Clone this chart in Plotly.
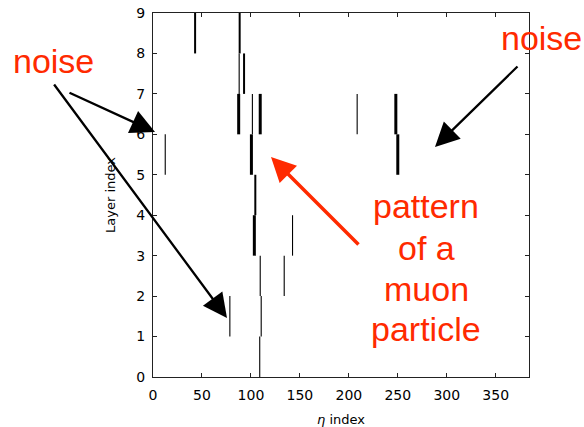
import plotly.graph_objects as go

# ---- data: hit segments (eta index, layer, hit multiplicity) ----
eta_index = [43, 88.5, 93, 88, 87.5, 101.5, 109.5, 100.5, 104.5, 103.5,
             142.5, 109.5, 134, 78.5, 110.5, 109, 12.5, 208.5, 248, 250]
layer = [8, 8, 7, 7, 6, 6, 6, 5, 4, 3,
         3, 2, 2, 1, 1, 0, 5, 6, 6, 5]
hits = [2, 2, 2, 1, 3, 1, 3, 3, 2, 3,
        1, 1, 1, 1, 1, 1, 1, 1, 3, 3]

x_ticks = [0, 50, 100, 150, 200, 250, 300, 350]
y_ticks = [0, 1, 2, 3, 4, 5, 6, 7, 8, 9]
x_max = 384
y_max = 9

noise_label = "noise"
muon_label_lines = ["pattern", "of a", "muon", "particle"]

# ---- layout geometry ----
W, H = 584, 427
ML, MR, MT, MB = 153, 55, 13, 50
pw, ph = W - ML - MR, H - MT - MB


def px_to_data(px, py):
    return (px - ML) * x_max / pw, (MT + ph - py) * y_max / ph


def px_to_paper(px, py):
    return (px - ML) / pw, (MT + ph - py) / ph


width_of = {1: 1.1, 2: 2.0, 3: 3.0}

fig = go.Figure()
for h in sorted(set(hits)):
    xs, ys = [], []
    for e, l, n in zip(eta_index, layer, hits):
        if n == h:
            xs += [e, e, None]
            ys += [l, l + 1, None]
    fig.add_trace(go.Scatter(x=xs, y=ys, mode="lines",
                             line=dict(color="black", width=width_of[h]),
                             hoverinfo="skip", showlegend=False))

RED = "#ff2a00"
TXT_FONT = dict(family="Liberation Sans, Arial, Helvetica, sans-serif", size=34, color=RED)

# text annotations (paper coordinates so they are not hidden outside the axes)
for (px, py) in [(53, 61), (541, 38)]:
    x, y = px_to_paper(px, py)
    fig.add_annotation(x=x, y=y, xref="paper", yref="paper", text=noise_label,
                       showarrow=False, font=TXT_FONT, xanchor="center", yanchor="middle")

for py, t in zip([206, 248, 289, 329], muon_label_lines):
    x, y = px_to_paper(426, py)
    fig.add_annotation(x=x, y=y, xref="paper", yref="paper", text=t,
                       showarrow=False, font=TXT_FONT, xanchor="center", yanchor="middle")

# arrows: (tail px, tail py, head px, head py, color, width, size)
arrows = [
    (68, 92, 155, 132, "black", 2.3, 2.1),
    (53, 83, 227, 318, "black", 2.3, 2.1),
    (519, 65, 435, 147, "black", 2.3, 2.1),
    (360, 246, 271, 157, RED, 3.5, 1.4),
]
for tx, ty, hx, hy, c, w, s in arrows:
    ax_, ay_ = px_to_data(tx, ty)
    hx_, hy_ = px_to_data(hx, hy)
    fig.add_annotation(x=hx_, y=hy_, ax=ax_, ay=ay_, xref="x", yref="y",
                       axref="x", ayref="y", text="", showarrow=True,
                       arrowhead=2, arrowcolor=c, arrowwidth=w, arrowsize=s,
                       standoff=0, startstandoff=0)

axis_common = dict(showline=True, linecolor="#222", linewidth=1, mirror="allticks",
                   ticks="inside", ticklen=4, tickcolor="#222", tickwidth=1,
                   showgrid=False, zeroline=False, ticklabeloverflow="allow",
                   tickfont=dict(family="DejaVu Sans", size=14, color="black"))

fig.update_xaxes(range=[0, x_max], tickvals=x_ticks, ticktext=[str(v) for v in x_ticks],
                 title=dict(text="<i>η</i> index", font=dict(family="DejaVu Sans", size=13, color="black"),
                            standoff=14),
                 ticklabelstandoff=5, **axis_common)
fig.update_yaxes(range=[0, y_max], tickvals=y_ticks, ticktext=[str(v) for v in y_ticks],
                 title=dict(text="Layer index", font=dict(family="DejaVu Sans", size=13, color="black"),
                            standoff=17),
                 ticklabelstandoff=4, **axis_common)

fig.update_layout(width=W, height=H, margin=dict(l=ML, r=MR, t=MT, b=MB, autoexpand=False),
                  plot_bgcolor="white", paper_bgcolor="white", showlegend=False)

# remove the browser's default 8px body margin so the figure fills the window
fig.write_html("out.html", config={"displayModeBar": False},
               post_script="document.body.style.margin='0px';document.body.style.overflow='hidden';")
